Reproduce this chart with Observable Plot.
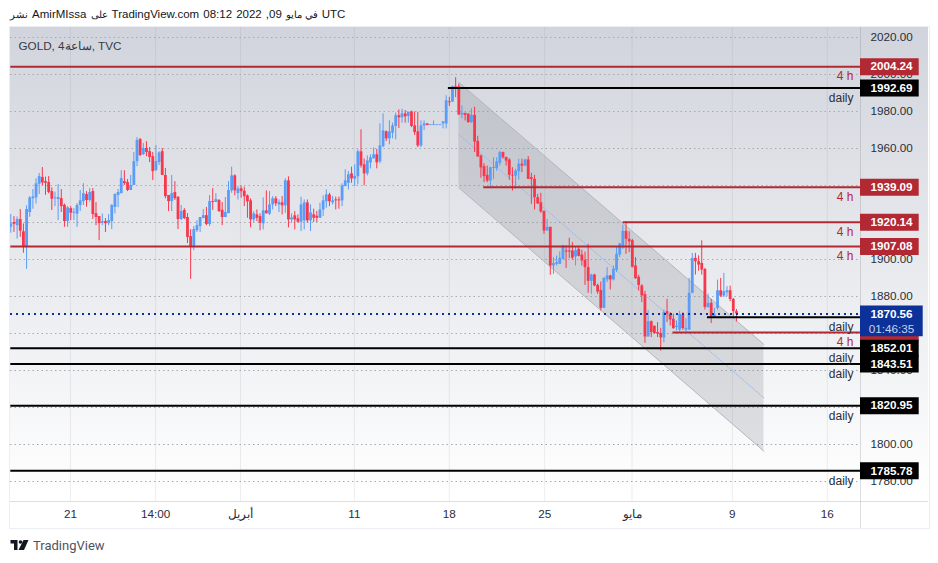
<!DOCTYPE html>
<html><head><meta charset="utf-8">
<script src="https://cdn.jsdelivr.net/npm/d3@7"></script>
<script src="https://cdn.jsdelivr.net/npm/@observablehq/plot@0.6"></script>
<style>
html,body{margin:0;padding:0;background:#fff;width:938px;height:563px;overflow:hidden;font-family:"Liberation Sans",Roboto,sans-serif}
#title{height:27px;line-height:29px;padding-left:10px;font-size:11.5px;color:#131722;white-space:nowrap;direction:ltr;word-spacing:0.9px}
#title .ar{font-size:9.5px;word-spacing:0}
#frame{position:absolute;left:8.5px;top:25.5px;width:921px;height:503.5px;border:1.5px solid #eceef3;box-sizing:border-box;pointer-events:none}
#foot{position:absolute;left:10px;top:537px;height:16px;display:flex;align-items:center;gap:4px;font-family:Roboto,sans-serif;font-size:13px;color:#50535e}
svg{display:block}
</style></head><body>
<div id="title"><span class="ar">نشر</span> AmirMIssa <span class="ar">على</span> TradingView.com 08:12 2022 ,09 <span class="ar">في مايو</span> UTC</div>
<div id="chart"></div>
<div id="frame"></div>
<div id="foot"><svg width="19" height="10" viewBox="0 0 36 20"><path fill="#131722" d="M0 0h14v20H7V7H0z"/><circle cx="20" cy="4" r="3.6" fill="#131722"/><path fill="#131722" d="M26 0h10l-9 20H16z"/></svg><span>TradingView</span></div>
<script>
const open=[1917.5,1920,1918.3,1921.6,1915,1906.6,1925.4,1932.8,1933.3,1940.7,
1944.3,1942.1,1941.6,1936.7,1932.9,1932.4,1932.9,1929.3,1920.5,1927.5,
1925,1924.5,1929.2,1931.3,1935.1,1931.9,1936.7,1924.8,1923.2,1919.6,
1920.5,1919.4,1920.5,1928.1,1934.6,1935.6,1942.1,1941.6,1937.3,1940,
1952.9,1964.8,1956.7,1960,1958.3,1955.6,1948.1,1952.4,1958.3,1945.4,
1934.6,1931.3,1936.2,1933.6,1921.6,1926.5,1922.7,1912.4,1906.6,1915.6,
1917.8,1922.1,1923.7,1918.9,1931.3,1930.8,1931.9,1926.6,1922.7,1924.8,
1937.1,1945.2,1935.7,1938.2,1936.9,1934.4,1931.7,1921.4,1924.1,1923.2,
1919.3,1926.3,1924.5,1929.5,1932.8,1929.5,1930.6,1929,1942.5,1921.4,
1923.6,1922,1920.2,1920.9,1930.6,1920.9,1924.1,1923.4,1922.3,1926.8,
1931.2,1934.9,1930.6,1932.2,1932.2,1931.7,1939.4,1941.2,1946.3,1943.4,
1944.7,1958.2,1951.2,1946.3,1952.2,1954.4,1956.6,1952.8,1961,1969,
1965.2,1968.3,1971.9,1977.7,1976.6,1978.7,1977.3,1979.8,1972.2,1969,
1961.4,1972.2,1973.3,1972.4,1972.4,1972.4,1972.4,1973.3,1973.3,1985.2,
1985.1,1993.6,1993.4,1978.1,1979,1978.5,1974,1977.9,1963.9,1956,
1950.2,1945.5,1942.4,1949.2,1949.1,1952,1957.8,1955.2,1953.8,1945.5,
1945.1,1947.4,1951.5,1950.5,1953.8,1944.2,1943.3,1933.4,1930.7,1926,
1915.4,1917.4,1896.5,1897.4,1897.4,1900.1,1904.6,1904.6,1904.6,1901.4,
1905.5,1902.4,1899.6,1895.6,1888.2,1891.6,1886,1883.3,1873.6,1889,
1891.1,1889,1894.1,1902.4,1906.4,1915.2,1910.9,1910.2,1896.5,1890.4,
1885.7,1881,1858.1,1866.4,1863.9,1860.5,1860,1857.6,1871.8,1870.4,
1867.7,1863.2,1861.8,1869.9,1862,1861.8,1881.7,1900.6,1898.8,1897.9,
1894.6,1874.1,1876.3,1869.1,1873.5,1883.1,1880.2,1882,1883.1,1878.4,1871.8];
const high=[1924.3,1923.2,1923,1927,1919.2,1929,1934,1937.8,1943.6,1946.5,
1949.7,1944.5,1944.8,1938.7,1936.4,1940.5,1937.8,1930,1928.6,1928.6,
1927.5,1930.2,1937.3,1941,1936.7,1938.3,1938.3,1930.8,1923.2,1924.6,
1922.1,1924.3,1929.7,1935.6,1937.8,1948,1948,1943.2,1945.4,1957.8,
1965.9,1965.4,1962.7,1963.7,1960.5,1957.8,1961.6,1958.3,1960,1949.2,
1934.6,1945.4,1942.1,1934,1929.2,1927.5,1924.8,1916.2,1917.8,1921,
1922.7,1927,1928.1,1934.6,1938.3,1935.6,1932.4,1930.8,1933.5,1942.1,
1949.9,1945.8,1939.4,1939.8,1939.1,1934.9,1932.8,1925.9,1926.8,1924.7,
1933.3,1937.1,1936.7,1934,1934,1932.2,1934,1943.6,1944.7,1924.7,
1925.9,1924.1,1933.7,1932.2,1932.2,1929.5,1927.2,1926,1930.4,1934.4,
1937.6,1935.8,1934,1933.7,1933.7,1940.9,1948.5,1947.6,1949.9,1951.2,
1959.3,1970.1,1954.4,1956,1956.6,1960.3,1959.6,1973.3,1978.7,1969.5,
1975,1973.7,1979.1,1980.9,1981.2,1980.5,1979.6,1980.2,1979.8,1979.6,
1974.9,1974.9,1973.3,1972.8,1974.9,1972.8,1972.8,1974.4,1988.5,1987.7,
1993.8,1998.3,1994.7,1983,1979,1978.8,1981.5,1982.3,1966.6,1956.5,
1951.8,1950.5,1950,1955,1955,1958.5,1958.1,1955.2,1954.5,1949.6,
1948.7,1954.2,1954.2,1954.2,1955.6,1946.6,1945.5,1935.2,1935.8,1926.2,
1921.7,1917.4,1901,1901.9,1904.2,1907.7,1907.3,1911.5,1909.1,1906.8,
1906.4,1905,1904,1908.2,1892,1892,1886.6,1887.8,1890.2,1895.6,
1891.5,1896.5,1906.8,1908.7,1918.5,1920.3,1915,1910.9,1901,1891.5,
1886.4,1882.8,1872.5,1866.8,1864.1,1865.9,1862.8,1872.7,1878.5,1871.3,
1870.4,1866.8,1872,1871.2,1868,1889.8,1903.3,1903.3,1902,1910.1,
1895.2,1881.3,1878.4,1873.5,1888.9,1889.8,1892.5,1885.3,1885.6,1879,1873];
const low=[1914.2,1914.6,1911,1912,1903.4,1894.7,1922.8,1927.2,1930,1935.1,
1940,1934.7,1935.5,1926.5,1928.6,1921,1925.4,1917.4,1917.3,1921,
1921,1917.4,1926,1929.2,1928.3,1931,1921.6,1918.3,1910.2,1918.3,
1914.6,1918.3,1916.2,1924.6,1928,1935.6,1940,1936.7,1937.3,1940,
1950.2,1955.6,1956.2,1955.6,1952.4,1942.7,1947.5,1950.8,1945.4,1932.8,
1925.9,1925.9,1931.9,1916.2,1921,1921.6,1908.6,1889.3,1904.8,1914.6,
1914.6,1922.1,1918.3,1917.8,1926.5,1930.8,1925.4,1918.3,1922.7,1924.8,
1935.8,1934.4,1932.2,1933.1,1928.6,1922.3,1917.1,1920,1920.5,1915.5,
1916,1924.7,1923.8,1926.8,1928.6,1925.4,1924.1,1925,1917.1,1919.6,
1916,1919.6,1915.1,1916,1919.6,1915.1,1920,1920,1922.3,1923.2,
1927.7,1928.6,1929.5,1926.8,1927.2,1928.6,1939.4,1937.6,1941.2,1939.4,
1940.3,1949.4,1939.8,1945.2,1949,1954.4,1949,1951.7,1960.5,1963.8,
1962,1965.2,1964.7,1970.8,1973.7,1973.7,1973.7,1971.3,1967,1960.5,
1960.5,1969.7,1972.4,1972.4,1972.4,1972.4,1972.4,1970.6,1970.6,1982.7,
1984.8,1987.5,1978.1,1976.1,1974.9,1973.6,1973.6,1957.8,1955.4,1943.9,
1941.5,1941.5,1939.2,1943.3,1947.7,1950.5,1954.2,1950.5,1942.8,1937,
1938,1942.8,1947,1950.2,1943.3,1929.8,1926.8,1930,1925,1913.6,
1915.4,1891.5,1892,1896.5,1897.4,1899.7,1895.2,1900.5,1899.7,1896.5,
1901.4,1896.5,1886,1881.7,1881.2,1885.3,1881.2,1872.2,1873.6,1887.5,
1883.5,1888.4,1893,1901,1905.5,1902.8,1903.7,1895.4,1889.3,1883,
1876.7,1854.7,1858.1,1857.8,1859.6,1857.8,1850.5,1855,1865.9,1864,
1862.3,1861.4,1861,1861.7,1861,1861.8,1881.7,1891.6,1893.7,1891.6,
1872.7,1873.6,1865.4,1868.7,1872.6,1879.5,1879.5,1879.9,1877.2,1869,1866.3];
const close=[1919.2,1919,1921.6,1915.3,1906.6,1927,1933.3,1933.8,1940.9,1944.8,
1941.4,1941.2,1936.2,1932.6,1933.3,1933.5,1928.6,1920.5,1927.9,1925,
1925.5,1929.2,1931.7,1935.6,1931.9,1936.2,1924.3,1922.7,1919.4,1920.5,
1919.4,1921,1929.2,1935.1,1936.2,1943.7,1941,1937.3,1940,1952.9,
1964.3,1956.2,1960,1957.8,1955.1,1947.5,1952.9,1957.6,1945.4,1934,
1931.3,1935.6,1932.9,1921.6,1925.9,1922.1,1911.9,1906.6,1916.2,1918.3,
1922.7,1923.7,1918.9,1931.3,1930.8,1932.4,1925.9,1922.7,1925.4,1937.3,
1945.2,1937.1,1938.2,1936.7,1933.9,1931.2,1921.4,1924.7,1922.3,1919.6,
1926.3,1924.7,1929.5,1932.8,1930.1,1930.8,1929,1942.5,1921.4,1922.5,
1921.4,1920.2,1929.5,1930.6,1920.9,1925.2,1922.3,1922.3,1926.8,1931.7,
1934.9,1931.2,1931.7,1931.7,1931.7,1939.8,1942.5,1945.8,1943.6,1944.9,
1958.2,1950.6,1946.3,1953.3,1954.9,1956.6,1952.2,1961.4,1969.5,1965.2,
1969,1972.2,1977.7,1976.6,1978.7,1977.1,1979.6,1971.9,1968.6,1961.4,
1972.2,1973.3,1972.4,1972.8,1972.8,1972.8,1972.8,1974.4,1985.8,1984.7,
1993.4,1993.2,1978.1,1979,1977.9,1974,1977.9,1963.5,1955.4,1949.5,
1944.8,1942.4,1949.5,1949.7,1952.7,1957.8,1955,1953.2,1945.5,1945.1,
1947.8,1951.5,1950.5,1953.8,1943.3,1943.3,1933.4,1930,1925.7,1915.4,
1917.4,1896.5,1897.8,1898.3,1900.6,1907.3,1904,1904,1900.8,1904.8,
1901.7,1899.2,1895.6,1888.2,1891.6,1885.7,1882.4,1873.6,1889.8,1891.1,
1889,1894.7,1902.8,1908.4,1915.2,1910.9,1909.5,1895.8,1889.6,1886,
1880.3,1858.1,1866.4,1860.5,1860,1859.6,1857.6,1871.3,1870.4,1867.3,
1862.6,1864,1870.3,1862.7,1862.8,1881.7,1900.6,1898.8,1897,1894.3,
1874.1,1876.3,1869.1,1870,1883.1,1880.2,1882.6,1883.1,1878.4,1871.8,1870.56];

const priceTicks=[1780,1800,1820,1840,1860,1880,1900,1920,1940,1960,1980,2000,2020];
const visiblePriceLabels=[1780,1800,1840,1880,1900,1960,1980,2000,2020];
const timeTicks=[19.9,46.9,73.8,109.9,140,170.2,197.9,229.7,259.8];
const timeLabels=["21","14:00","أبريل","11","18","25","مايو","9","16"];
const levelPrice=[2004.24,1992.69,1939.09,1920.14,1907.08,1868.8,1860.5,1852.01,1843.51,1820.95,1785.78];
const levelStart=[1,139.7,150.9,195.1,1,221.8,210.9,1,1,1,1];
const levelKind=["4 h","daily","4 h","4 h","4 h","daily","4 h","daily","daily","daily","daily"];
const lastPrice=1870.56, countdown="01:46:35";
const channelX=[143,239.7];
const channelTop=[1995.8,1854.1];
const channelMid=[1967.6,1825.2];
const channelBottom=[1938.8,1796.4];

const RED="#b22833", BLACK="#000000", NAVY="#0c3299";
const UP="#5a9cf6", DOWN="#f7374c";
const candles=open.map((o,k)=>({i:k+1,o,h:high[k],l:low[k],c:close[k],col:close[k]>=o?UP:DOWN}));
const levels=levelPrice.map((p,k)=>({p,s:levelStart[k],kind:levelKind[k],col:levelKind[k]==="daily"?BLACK:RED}));
const chan=channelX.map((x,k)=>({x,t:channelTop[k],m:channelMid[k],b:channelBottom[k]}));

const W=938,H=503,ML=10,MR=78,MT=0,MB=29;
const bar0=10.3, step=3.155;
const iOf=p=>1+(p-bar0)/step;
const iLeft=iOf(ML), iRight=iOf(W-MR);
const tagA=iRight, tagB=iOf(918.7), tagBlue=iOf(922.7), tagMid=iOf(891), iBox=iOf(928);
const yTop=2020+10/1.85, yBot=yTop-474/1.85, yBox=yBot-27/1.85;
const defs=()=>{const s=d3.create("svg:defs");const g=s.append("linearGradient").attr("id","bg").attr("x1",0).attr("x2",0).attr("y1",0).attr("y2",1);
g.append("stop").attr("offset","0%").attr("stop-color","#d1d4dc");g.append("stop").attr("offset","94%").attr("stop-color","#ffffff");g.append("stop").attr("offset","100%").attr("stop-color","#ffffff");return s.node();};
const fmt=d=>d.toFixed(2);
const hiddenTags=new Set([1868.8,1860.5]);
const tagOrder=levels.slice().sort((a,b)=>b.p-a.p);
const NUM="Liberation Sans, Arial, sans-serif";

const plot=Plot.plot({
 width:W,height:H,marginLeft:ML,marginRight:MR,marginTop:MT,marginBottom:MB,
 style:{fontFamily:NUM,fontSize:"12px",background:"#fff",overflow:"visible"},
 x:{domain:[iLeft,iRight],axis:null},
 y:{domain:[yBot,yTop],axis:null},
 marks:[
  defs,
  Plot.rect([0],{x1:iLeft,x2:iBox,y1:yBox,y2:yTop,fill:"url(#bg)"}),
  Plot.ruleX(timeTicks,{x:d=>d,y1:yBot,y2:yTop,stroke:"#787b86",strokeOpacity:0.13,strokeWidth:1}),
  Plot.gridY(priceTicks,{stroke:"#a8aab0",strokeOpacity:1,strokeDasharray:"1.5 3",strokeWidth:1}),
  Plot.ruleY([yBot],{x1:iLeft,x2:iBox,stroke:"#787b86",strokeOpacity:0.25,strokeWidth:1}),
  Plot.ruleX([iRight],{y1:yBox,y2:yTop,stroke:"#787b86",strokeOpacity:0.25,strokeWidth:1}),
  Plot.areaY(chan,{x:"x",y1:"b",y2:"t",fill:"#787b86",fillOpacity:0.22}),
  Plot.line(chan,{x:"x",y:"t",stroke:"#b4b6be",strokeWidth:1}),
  Plot.line(chan,{x:"x",y:"b",stroke:"#b4b6be",strokeWidth:1}),
  Plot.line(chan,{x:"x",y:"m",stroke:"#9fb9ef",strokeWidth:1,strokeDasharray:"1.5 1.5"}),
  Plot.ruleX(candles,{x:"i",y1:"l",y2:"h",stroke:"col",strokeWidth:1}),
  Plot.ruleX(candles,{x:"i",y1:"o",y2:"c",stroke:"col",strokeWidth:2.8}),
  Plot.ruleY(levels,{y:"p",x1:"s",x2:iRight,stroke:"col",strokeWidth:2}),
  Plot.ruleY([lastPrice],{x1:iLeft,x2:iRight,stroke:NAVY,strokeWidth:2,strokeDasharray:"2 4"}),
  Plot.axisX({ticks:timeTicks,tickFormat:d=>timeLabels[timeTicks.indexOf(d)],anchor:"bottom",tickSize:0,tickPadding:8,label:null,fontSize:11.7,color:"#2a2e39"}),
  Plot.axisY({ticks:visiblePriceLabels,tickFormat:fmt,anchor:"right",tickSize:0,tickPadding:10,label:null,fontSize:11.7,color:"#2a2e39"}),
  Plot.text(levels,{y:"p",text:"kind",frameAnchor:"right",dx:-7,dy:10,textAnchor:"end",fontSize:12,fill:d=>d.kind==="daily"?"#2a2e39":RED}),
  Plot.ruleY(tagOrder.filter(d=>d.p>lastPrice),{y:"p",x1:tagA,x2:tagB,stroke:"col",strokeWidth:17}),
  Plot.ruleY(tagOrder.filter(d=>hiddenTags.has(d.p)),{y:"p",x1:tagA,x2:tagB,stroke:"col",strokeWidth:17}),
  Plot.ruleY([lastPrice],{x1:tagA,x2:tagBlue,stroke:NAVY,strokeWidth:30.7,dy:7}),
  Plot.ruleY(tagOrder.filter(d=>d.p<lastPrice&&!hiddenTags.has(d.p)),{y:"p",x1:tagA,x2:tagB,stroke:"col",strokeWidth:17}),
  Plot.text(tagOrder.filter(d=>!hiddenTags.has(d.p)),{y:"p",x:tagMid,text:d=>fmt(d.p),fill:"#fff",fontWeight:"bold",fontSize:11.7}),
  Plot.text([lastPrice],{y:d=>d,x:tagMid,text:d=>fmt(d),fill:"#fff",fontWeight:"bold",fontSize:11.7}),
  Plot.text([lastPrice],{y:d=>d,x:tagMid,text:()=>countdown,dy:15,fill:"#c7d2ee",fontSize:11.7}),
  Plot.text(["GOLD, 4ساعة, TVC"],{frameAnchor:"top-left",dx:8,dy:14,textAnchor:"start",text:d=>d,fontSize:11.7,fill:"#363a45"})
 ]
});
document.getElementById("chart").appendChild(plot);
</script>
</body></html>
